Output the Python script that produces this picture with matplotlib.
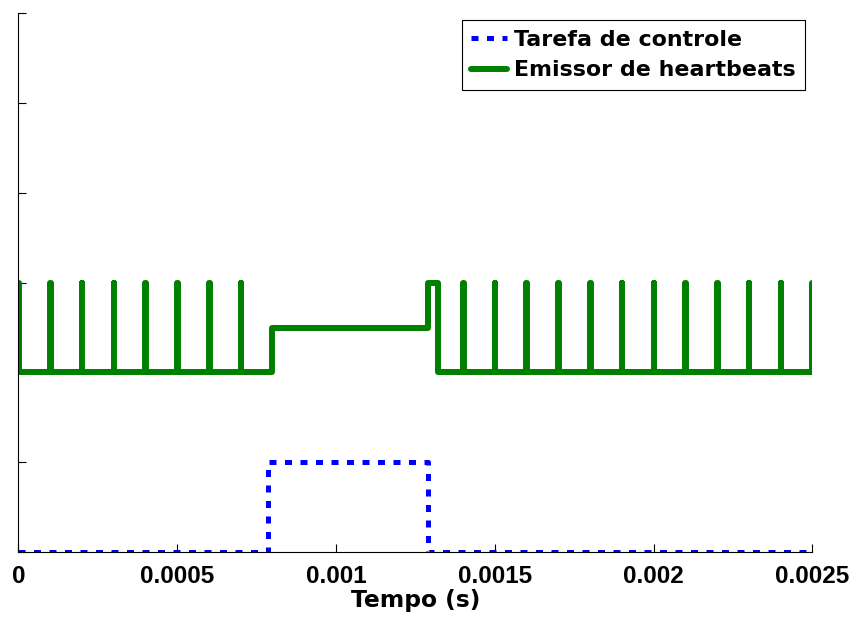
import matplotlib
matplotlib.use("Agg")
import matplotlib.pyplot as plt

# tarefa de controle (nivel 0/1)
ctrl_t = [0.0, 0.000787, 0.00129, 0.0025]
ctrl_y = [0, 1, 0, 0]

# emissor de heartbeats
hb_times = [0.0, 0.0001, 0.0002, 0.0003, 0.0004, 0.0005, 0.0006, 0.0007,
            0.0014, 0.0015, 0.0016, 0.0017, 0.0018, 0.0019, 0.0020,
            0.0021, 0.0022, 0.0023, 0.0024]
hb_width = 2e-6
hb_base = 2
hb_high = 3
wait_start = 0.0008     # emissor bloqueado
wait_level = 2.5
wake_start = 0.00129
wake_end = 0.00132
t_end = 0.0025

xticks = [0, 0.0005, 0.001, 0.0015, 0.002, 0.0025]
xticklabels = ["0", "0.0005", "0.001", "0.0015", "0.002", "0.0025"]

# monta o sinal em degraus
pts = []
for p in hb_times:
    pts.append((p, hb_high))
    pts.append((p + hb_width, hb_base))
pts.append((wait_start, wait_level))
pts.append((wake_start, hb_high))
pts.append((wake_end, hb_base))
pts.append((t_end, hb_high))
pts.sort()
hb_t = [p[0] for p in pts]
hb_y = [p[1] for p in pts]

fig = plt.figure(figsize=(8.56, 6.17), dpi=100)
ax = fig.add_axes([0.0214, 0.1053, 0.9276, 0.8731])

ax.plot(ctrl_t, ctrl_y, color="#0000ff", lw=3.6, linestyle=(0, (1.4, 1.7)),
        drawstyle="steps-post", label="Tarefa de controle")
ax.plot(hb_t, hb_y, color="#008000", lw=4.3, drawstyle="steps-post",
        solid_joinstyle="round", solid_capstyle="round",
        label="Emissor de heartbeats")

ax.set_xlim(0, 0.0025)
ax.set_ylim(0, 6)
ax.set_xticks(xticks)
ax.set_xticklabels(xticklabels, fontfamily="Liberation Sans",
                   fontweight="bold", fontsize=17.5)
ax.set_yticks([0, 1, 2, 3, 4, 5, 6])
ax.set_yticklabels([])
ax.tick_params(direction="in", length=5.8, width=0.8, pad=9)

ax.spines["top"].set_visible(False)
ax.spines["right"].set_visible(False)
ax.spines["left"].set_linewidth(0.8)
ax.spines["bottom"].set_linewidth(0.8)

ax.set_xlabel("Tempo (s)", fontfamily="DejaVu Sans", fontweight="bold",
              fontsize=16.8, labelpad=1)

leg = ax.legend(loc="upper right", prop={"family": "DejaVu Sans",
                                         "weight": "bold", "size": 15.9},
                handlelength=1.6, handletextpad=0.35, borderpad=0.42,
                labelspacing=0.48, borderaxespad=0.32, fancybox=False,
                framealpha=1)
leg.get_frame().set_edgecolor("black")
leg.get_frame().set_linewidth(0.8)

plt.savefig("out.png", dpi=100)
